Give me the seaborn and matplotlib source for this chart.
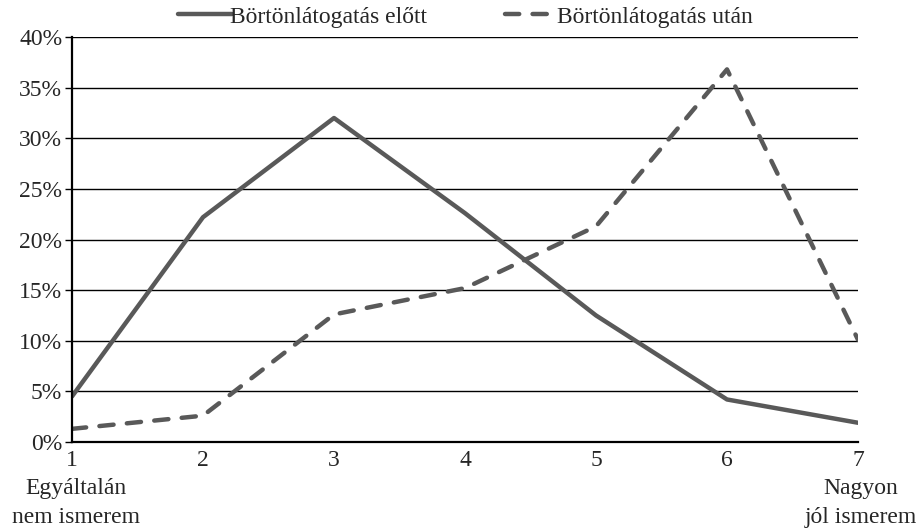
import matplotlib
matplotlib.use('Agg')
import matplotlib.pyplot as plt
import pandas as pd
import seaborn as sns
from matplotlib.ticker import PercentFormatter

# Data
scale = [1, 2, 3, 4, 5, 6, 7]
before_visit = [4.5, 22.2, 32.0, 22.6, 12.5, 4.2, 1.9]
after_visit = [1.3, 2.6, 12.6, 15.2, 21.3, 36.8, 10.1]
series_names = ['Börtönlátogatás előtt', 'Börtönlátogatás után']
y_ticks = [0, 5, 10, 15, 20, 25, 30, 35, 40]

df = pd.DataFrame({
    'x': scale * 2,
    'y': before_visit + after_visit,
    'series': [series_names[0]] * len(scale) + [series_names[1]] * len(scale),
})

sns.set_theme(style='white')
plt.rcParams['font.family'] = ['Liberation Serif', 'DejaVu Serif']
fs = 17

fig = plt.figure(figsize=(9.18, 5.30), dpi=100)
ax = fig.add_axes([72 / 918, 1 - 442 / 530, (858 - 72) / 918, (442 - 37) / 530])

sns.lineplot(data=df, x='x', y='y', hue='series', style='series',
             palette=['#595959', '#595959'],
             dashes={series_names[0]: '', series_names[1]: (3.2, 3.0)},
             linewidth=3.2, ax=ax, legend=True)
for line in ax.get_lines():
    line.set_dash_capstyle('round')

ax.set_xlim(1, 7)
ax.set_ylim(0, 40)
ax.set_yticks(y_ticks)
ax.yaxis.set_major_formatter(PercentFormatter(decimals=0))
ax.set_xticks(scale)
ax.grid(axis='y', color='black', linewidth=1)
ax.set_axisbelow(True)
for side in ['top', 'right']:
    ax.spines[side].set_visible(False)
ax.spines['left'].set_color('black')
ax.spines['bottom'].set_color('black')
ax.spines['left'].set_linewidth(1.6)
ax.spines['bottom'].set_linewidth(1.6)
ax.tick_params(axis='y', left=True, length=5, width=1, color='black', labelsize=fs, pad=2)
ax.tick_params(axis='x', bottom=False, labelsize=fs, pad=0)
ax.set_xlabel('')
ax.set_ylabel('')

fig.text(76 / 918, 1 - 503 / 530, 'Egyáltalán\nnem ismerem', ha='center', va='center',
         fontsize=fs, linespacing=1.5)
fig.text(917 / 918, 1 - 503 / 530, 'Nagyon\njól ismerem', ha='right', va='center',
         fontsize=fs, linespacing=1.5, multialignment='center')

leg = ax.legend(loc='lower center', bbox_to_anchor=(0.5, 1.0), ncol=2, frameon=False,
                fontsize=fs, handlelength=2.3, handletextpad=-0.1, columnspacing=3.3,
                borderaxespad=0.2, borderpad=0.2)
for line in leg.get_lines():
    line.set_dash_capstyle('round')

fig.savefig('out.png', dpi=100)
